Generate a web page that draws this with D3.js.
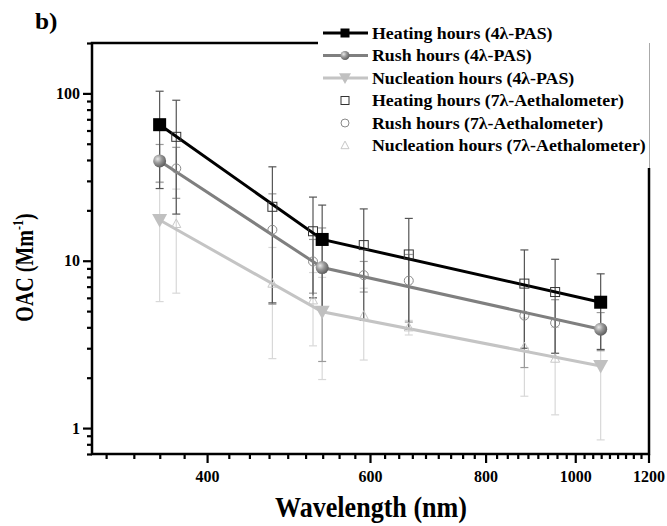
<!DOCTYPE html>
<html>
<head>
<meta charset="utf-8">
<script src="https://cdn.jsdelivr.net/npm/d3@7"></script>
<style>
  body { margin: 0; background: #fff; }
  text { font-family: "Liberation Serif", "Times New Roman", serif; font-weight: bold; }
</style>
</head>
<body>
<div class="graph"></div>
<script>
// wavelengths (nm)
const pasWl = [355, 532, 1064];
const aethWl = [370, 470, 520, 590, 660, 880, 950];

// OAC (Mm-1) and error bars
const heatingPas = [65, 13.4, 5.65];
const heatingPasErr = [38, 8.1, 2.7];
const rushPas = [39.5, 9.1, 3.9];
const rushPasErr = [10, 6.6, 1.0];
const nuclPas = [17.5, 4.95, 2.35];
const nuclPasErr = [11.8, 3.0, 1.5];

const heatingAeth = [55, 21, 15, 12.4, 10.9, 7.3, 6.5];
const heatingAethErr = [36, 15.4, 9, 8, 7, 4.3, 3.7];
const rushAeth = [35.6, 15.3, 9.9, 8.2, 7.6, 4.7, 4.25];
const rushAethErr = [12, 9.8, 3.5, 1.7, 3.3, 2.4, 1.6];
const nuclAeth = [16.6, 7.3, 5.8, 4.7, 4.0, 3.05, 2.6];
const nuclAethErr = [10.2, 4.7, 2.7, 2.15, 0.4, 1.5, 1.4];

const xTicks = [400, 600, 800, 1000, 1200];
const yTicks = [1, 10, 100];
const legendLabels = [
  "Heating hours (4\u03bb-PAS)",
  "Rush hours (4\u03bb-PAS)",
  "Nucleation hours (4\u03bb-PAS)",
  "Heating hours (7\u03bb-Aethalometer)",
  "Rush hours (7\u03bb-Aethalometer)",
  "Nucleation hours (7\u03bb-Aethalometer)"
];

const W = 667, H = 526;
const mLeft = 92, mRight = 649, mTop = 43, mBottom = 454;

const x = d3.scaleLog().domain([300, 1200]).range([mLeft, mRight]);
const y = d3.scaleLog().domain([0.7, 200]).range([mBottom, mTop]);

const svg = d3.select(".graph").append("svg")
    .attr("width", W)
    .attr("height", H);

const defs = svg.append("defs");
const grad = defs.append("radialGradient")
    .attr("id", "sphere")
    .attr("cx", "35%").attr("cy", "35%").attr("r", "70%");
grad.append("stop").attr("offset", "0%").attr("stop-color", "#e8e8e8");
grad.append("stop").attr("offset", "45%").attr("stop-color", "#9a9a9a");
grad.append("stop").attr("offset", "100%").attr("stop-color", "#5a5a5a");

// group styles
const groups = [
  { pas: heatingPas, pasErr: heatingPasErr, aeth: heatingAeth, aethErr: heatingAethErr,
    line: "#000", bar: "#555", mark: "square", open: "#333" },
  { pas: rushPas, pasErr: rushPasErr, aeth: rushAeth, aethErr: rushAethErr,
    line: "#7f7f7f", bar: "#9a9a9a", mark: "sphere", open: "#8a8a8a" },
  { pas: nuclPas, pasErr: nuclPasErr, aeth: nuclAeth, aethErr: nuclAethErr,
    line: "#c4c4c4", bar: "#d8d8d8", mark: "tri", open: "#c8c8c8" }
];

// error bars (light first)
const capW = 4;
function errorBars(g, wl, vals, errs, color) {
  const d = wl.map((w, i) => ({ w, v: vals[i], e: errs[i] }));
  const eg = g.append("g").attr("stroke", color).attr("stroke-width", 1.2).attr("fill", "none");
  eg.selectAll("line.v").data(d).enter().append("line")
      .attr("x1", p => x(p.w)).attr("x2", p => x(p.w))
      .attr("y1", p => y(Math.max(p.v - p.e, 0.7))).attr("y2", p => y(p.v + p.e));
  eg.selectAll("line.t").data(d).enter().append("line")
      .attr("x1", p => x(p.w) - capW).attr("x2", p => x(p.w) + capW)
      .attr("y1", p => y(p.v + p.e)).attr("y2", p => y(p.v + p.e));
  eg.selectAll("line.b").data(d.filter(p => p.v - p.e > 0.7)).enter().append("line")
      .attr("x1", p => x(p.w) - capW).attr("x2", p => x(p.w) + capW)
      .attr("y1", p => y(p.v - p.e)).attr("y2", p => y(p.v - p.e));
}

const plot = svg.append("g");
[2, 1, 0].forEach(k => {
  const gr = groups[k];
  errorBars(plot, aethWl, gr.aeth, gr.aethErr, gr.bar);
  errorBars(plot, pasWl, gr.pas, gr.pasErr, gr.bar);
});

// PAS lines
const line = d3.line().x(d => x(d[0])).y(d => y(d[1]));
groups.forEach(gr => {
  plot.append("path")
      .datum(pasWl.map((w, i) => [w, gr.pas[i]]))
      .attr("d", line)
      .attr("fill", "none")
      .attr("stroke", gr.line)
      .attr("stroke-width", 3);
});

// marker helpers
function filledMarker(g, type, cx, cy, s) {
  if (type === "square") {
    g.append("rect").attr("x", cx - s / 2).attr("y", cy - s / 2)
        .attr("width", s).attr("height", s).attr("fill", "#000");
  } else if (type === "sphere") {
    g.append("circle").attr("cx", cx).attr("cy", cy).attr("r", s / 2)
        .attr("fill", "url(#sphere)");
  } else {
    g.append("path")
        .attr("d", `M${cx - s / 2},${cy - s * 0.4}L${cx + s / 2},${cy - s * 0.4}L${cx},${cy + s * 0.5}Z`)
        .attr("fill", "#c0c0c0");
  }
}
function openMarker(g, type, cx, cy, s, color) {
  if (type === "square") {
    g.append("rect").attr("x", cx - s / 2).attr("y", cy - s / 2)
        .attr("width", s).attr("height", s)
        .attr("fill", "none").attr("stroke", color).attr("stroke-width", 1);
  } else if (type === "sphere") {
    g.append("circle").attr("cx", cx).attr("cy", cy).attr("r", s / 2)
        .attr("fill", "none").attr("stroke", color).attr("stroke-width", 1);
  } else {
    g.append("path")
        .attr("d", `M${cx},${cy - s * 0.55}L${cx + s / 2},${cy + s * 0.4}L${cx - s / 2},${cy + s * 0.4}Z`)
        .attr("fill", "none").attr("stroke", color).attr("stroke-width", 1);
  }
}

groups.forEach(gr => {
  aethWl.forEach((w, i) => openMarker(plot, gr.mark, x(w), y(gr.aeth[i]), 9, gr.open));
});
groups.forEach(gr => {
  pasWl.forEach((w, i) => filledMarker(plot, gr.mark, x(w), y(gr.pas[i]), gr.mark === "tri" ? 15 : 13));
});

// axes
const xMinor = [];
for (let a = 200; a < 1200; a += 200) {
  for (let j = 1; j <= 8; j++) {
    const v = a + j * 200 / 9;
    if (v > 300 && v < 1200) xMinor.push(v);
  }
}
const yMinor = [];
[0.1, 1, 10, 100].forEach(dec => {
  for (let j = 2; j <= 9; j++) {
    const v = dec * j;
    if (v >= 0.7 && v <= 200 && !yTicks.includes(v)) yMinor.push(v);
  }
});

// x ticks drawn as plain lines from the scale
const xt = svg.append("g").attr("stroke", "#000").attr("stroke-width", 2.2);
xt.selectAll("line.minor").data(xMinor).enter().append("line")
    .attr("x1", d => x(d)).attr("x2", d => x(d))
    .attr("y1", mBottom).attr("y2", mBottom + 5);
xt.selectAll("line.major").data(xTicks).enter().append("line")
    .attr("x1", d => x(d)).attr("x2", d => x(d))
    .attr("y1", mBottom).attr("y2", mBottom + 9);
svg.append("g").selectAll("text").data(xTicks).enter().append("text")
    .attr("x", d => x(d)).attr("y", mBottom + 28)
    .attr("text-anchor", "middle").style("font-size", "16px")
    .text(d3.format("d"));

function styleAxis(g) {
  g.select(".domain").remove();
  g.selectAll(".tick line").attr("stroke", "#000").attr("stroke-width", 2.2);
  g.selectAll(".tick text").attr("fill", "#000").style("font-size", "16px");
}

svg.append("g")
    .attr("transform", `translate(${mLeft},0)`)
    .call(d3.axisLeft(y).tickValues(yMinor).tickSize(5).tickFormat(""))
    .call(styleAxis);
svg.append("g")
    .attr("transform", `translate(${mLeft},0)`)
    .call(d3.axisLeft(y).tickValues(yTicks).tickSize(9).tickPadding(3).tickFormat(d3.format("d")))
    .call(styleAxis);

// frame
svg.append("rect")
    .attr("x", mLeft).attr("y", mTop)
    .attr("width", mRight - mLeft).attr("height", mBottom - mTop)
    .attr("fill", "none").attr("stroke", "#000").attr("stroke-width", 2.5);

// legend (white box covering the top-right of the frame)
const lg = svg.append("g");
lg.append("rect").attr("x", 318).attr("y", 0).attr("width", mRight - 318 + 2).attr("height", 168)
    .attr("fill", "#fff");
lg.append("line").attr("x1", mRight + 0.5).attr("x2", mRight + 0.5).attr("y1", 43).attr("y2", 168)
    .attr("stroke", "#aaa").attr("stroke-width", 1);

const rowY = i => 33 + i * 22.5;
legendLabels.forEach((lab, i) => {
  const gr = groups[i % 3];
  const cy = rowY(i);
  if (i < 3) {
    lg.append("line").attr("x1", 323).attr("x2", 368).attr("y1", cy).attr("y2", cy)
        .attr("stroke", gr.line).attr("stroke-width", 3);
    filledMarker(lg, gr.mark, 345, cy, gr.mark === "tri" ? 12 : 9);
  } else {
    openMarker(lg, gr.mark, 345, cy, 8, gr.open);
  }
  lg.append("text")
      .attr("transform", `translate(372,${cy + 5.8}) scale(1.08,1)`)
      .style("font-size", "16.5px").attr("fill", "#000").text(lab);
});

// titles
svg.append("text")
    .attr("transform", "translate(35,29) scale(1.1,1)")
    .style("font-size", "23px").text("b)");
svg.append("text")
    .attr("transform", `translate(371,517) scale(0.9,1)`)
    .attr("text-anchor", "middle").style("font-size", "29px")
    .text("Wavelength (nm)");
const yt = svg.append("text")
    .attr("transform", "translate(32.5,267.5) rotate(-90) scale(0.8,1)")
    .attr("text-anchor", "middle").style("font-size", "25px");
yt.append("tspan").text("OAC (Mm");
yt.append("tspan").attr("dy", -10).style("font-size", "15px").text("-1");
yt.append("tspan").attr("dy", 10).text(")");
</script>
</body>
</html>
